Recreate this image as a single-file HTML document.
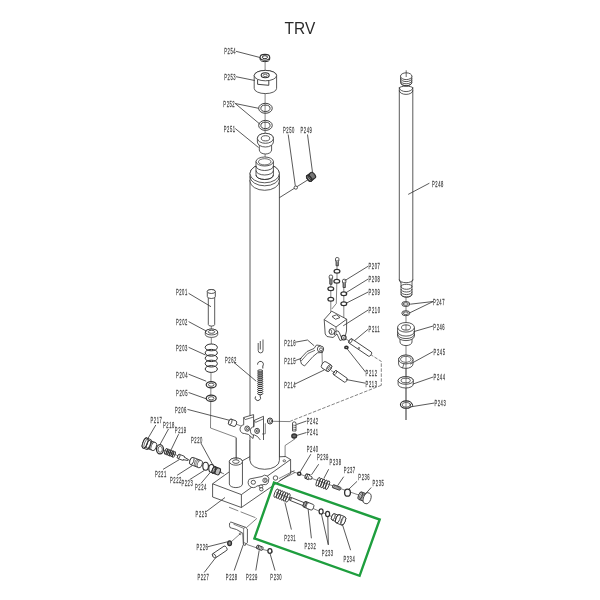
<!DOCTYPE html>
<html><head><meta charset="utf-8"><style>
html,body{margin:0;padding:0;background:#fff;width:600px;height:600px;overflow:hidden}
svg{display:block;font-family:"Liberation Sans",sans-serif;will-change:transform}
</style></head><body>
<svg width="600" height="600" viewBox="0 0 600 600">
<rect width="600" height="600" fill="#fff"/>
<text x="284.6" y="33.8" font-size="16.9" textLength="30.6" lengthAdjust="spacingAndGlyphs" fill="#2a2a2a">TRV</text>
<path d="M265.1 60 L265.1 165" stroke="#303030" stroke-width="0.6" fill="none"/>
<path d="M260.1 57.5 L260.1 59 A4.8 2.6 0 0 0 269.7 59 L269.7 57.5" stroke="#303030" stroke-width="1.0" fill="#fff"/>
<ellipse cx="264.9" cy="57.3" rx="4.8" ry="2.9" stroke="#303030" stroke-width="1.1" fill="#fff"/>
<ellipse cx="264.9" cy="57.2" rx="2.6" ry="1.5" stroke="#303030" stroke-width="1.0" fill="#fff"/>
<path d="M254.2 75.6 L254.2 88.4 A11.2 5.2 0 0 0 276.6 88.4 L276.6 75.6 A11.2 5.2 0 0 0 254.2 75.6 Z" stroke="#303030" stroke-width="0.8" fill="#fff"/>
<ellipse cx="265.4" cy="75.6" rx="11.2" ry="5.2" stroke="#303030" stroke-width="0.8" fill="#fff"/>
<ellipse cx="265.2" cy="75.2" rx="4" ry="2.5" stroke="#303030" stroke-width="1.1" fill="#fff"/>
<ellipse cx="265.2" cy="75.4" rx="2" ry="1.2" stroke="#303030" stroke-width="0.7" fill="#fff"/>
<path d="M257.6 79.6 L257.6 84.3 L268.8 85.3 L268.8 80.6" stroke="#303030" stroke-width="0.9" fill="none"/>
<ellipse cx="265.45" cy="108.3" rx="6.8" ry="5" stroke="#303030" stroke-width="0.9" fill="none"/>
<ellipse cx="265.45" cy="108.3" rx="4.6" ry="3.2" stroke="#303030" stroke-width="0.9" fill="none"/>
<ellipse cx="265.45" cy="125.4" rx="6.8" ry="5" stroke="#303030" stroke-width="0.9" fill="none"/>
<ellipse cx="265.45" cy="125.4" rx="4.6" ry="3.2" stroke="#303030" stroke-width="0.9" fill="none"/>
<path d="M259.3 142 L259.3 150 A6.15 4.0 0 0 0 271.6 150 L271.6 142" stroke="#303030" stroke-width="0.8" fill="#fff"/>
<path d="M257.4 138.3 L257.4 142 A8 5 0 0 0 273.4 142 L273.4 138.3 A8 5 0 0 0 257.4 138.3 Z" stroke="#303030" stroke-width="0.8" fill="#fff"/>
<ellipse cx="265.4" cy="138.3" rx="8" ry="5" stroke="#303030" stroke-width="0.8" fill="#fff"/>
<ellipse cx="265.5" cy="138.3" rx="4.2" ry="2.6" stroke="#303030" stroke-width="0.8" fill="#fff"/>
<path d="M236 51.3 L260 57.5" stroke="#303030" stroke-width="0.8" fill="none"/>
<path d="M236 76.7 L254.8 80.5" stroke="#303030" stroke-width="0.8" fill="none"/>
<path d="M235.2 103.5 L258.6 108.3" stroke="#303030" stroke-width="0.8" fill="none"/>
<path d="M235.2 103.5 L260 124.2" stroke="#303030" stroke-width="0.8" fill="none"/>
<path d="M235.2 128.5 L258.5 147.5" stroke="#303030" stroke-width="0.8" fill="none"/>
<path d="M250 180 L250 461" stroke="#303030" stroke-width="0.8" fill="none"/>
<path d="M279.4 180 L279.4 461" stroke="#303030" stroke-width="0.8" fill="none"/>
<path d="M250 460.5 A14.7 8.8 0 0 0 279.4 460.5" stroke="#303030" stroke-width="0.8" fill="none"/>
<path d="M250.0 173.5 L250.0 181 A14.7 9.3 0 0 0 279.4 181 L279.4 173.5 A14.7 9.3 0 0 0 250.0 173.5 Z" stroke="#303030" stroke-width="0.8" fill="#fff"/>
<ellipse cx="264.7" cy="173.5" rx="14.7" ry="9.3" stroke="#303030" stroke-width="0.8" fill="#fff"/>
<path d="M250 176.5 A14.7 9.3 0 0 0 279.4 176.5" stroke="#303030" stroke-width="0.8" fill="none"/>
<path d="M256 161.5 L256 175 A8.7 4.5 0 0 0 273.4 175 L273.4 161.5 Z" stroke="#303030" stroke-width="0.8" fill="#fff"/>
<path d="M256 166 A8.7 4.5 0 0 0 273.4 166" stroke="#303030" stroke-width="0.8" fill="none"/>
<path d="M256 170.5 A8.7 4.5 0 0 0 273.4 170.5" stroke="#303030" stroke-width="0.8" fill="none"/>
<path d="M256 175 A8.7 4.5 0 0 0 273.4 175" stroke="#303030" stroke-width="0.8" fill="none"/>
<ellipse cx="264.7" cy="161.5" rx="8.7" ry="4.5" stroke="#303030" stroke-width="0.8" fill="#fff"/>
<ellipse cx="264.7" cy="161.8" rx="6.3" ry="3.1" stroke="#303030" stroke-width="0.7" fill="#fff"/>
<path d="M279.4 197.7 L309.5 178.8" stroke="#303030" stroke-width="0.8" fill="none"/>
<ellipse cx="295.8" cy="187.6" rx="1.7" ry="1.6" stroke="#303030" stroke-width="0.8" fill="#fff"/>
<g transform="translate(311.2 176.7) rotate(-38)">
<path d="M-2.6 -3.4 L2.4 -3.4 A1.7 3.4 0 0 1 2.4 3.4 L-2.6 3.4 A1.7 3.4 0 0 1 -2.6 -3.4 Z" stroke="#303030" stroke-width="1.2" fill="#777"/>
<ellipse cx="-2.6" cy="0" rx="1.7" ry="3.4" stroke="#303030" stroke-width="1.2" fill="#fff"/>
<ellipse cx="-2.6" cy="0" rx="1.7" ry="3.4" stroke="#303030" stroke-width="1.3" fill="#999"/>
<path d="M-0.8 -3.3 A1.7 3.3 0 0 0 -0.8 3.3" stroke="#303030" stroke-width="0.9" fill="none"/>
<path d="M0.8 -3.3 A1.7 3.3 0 0 0 0.8 3.3" stroke="#303030" stroke-width="0.9" fill="none"/>
</g>
<path d="M288.2 134.5 L295.3 185.8" stroke="#303030" stroke-width="0.8" fill="none"/>
<path d="M307.5 134.5 L312.6 173" stroke="#303030" stroke-width="0.8" fill="none"/>
<path d="M400.6 76.2 L400.6 82.5 A5.6 3.3 0 0 0 411.8 82.5 L411.8 76.2 Z" stroke="#303030" stroke-width="0.8" fill="#fff"/>
<path d="M400.6 78.3 A5.6 3.3 0 0 0 411.8 78.3" stroke="#303030" stroke-width="0.8" fill="none"/>
<path d="M400.6 80.5 A5.6 3.3 0 0 0 411.8 80.5" stroke="#303030" stroke-width="0.8" fill="none"/>
<path d="M400.6 82.4 A5.6 3.3 0 0 0 411.8 82.4" stroke="#303030" stroke-width="0.8" fill="none"/>
<ellipse cx="406.2" cy="76.2" rx="5.7" ry="3.4" stroke="#303030" stroke-width="0.8" fill="#fff"/>
<path d="M406.2 70.3 L406.2 77" stroke="#303030" stroke-width="0.7" fill="none"/>
<path d="M399.3 87.5 L399.3 280 A6.75 4 0 0 0 412.8 280 L412.8 87.5" stroke="#303030" stroke-width="0.8" fill="#fff"/>
<path d="M399.3 88 A6.75 1.8 0 0 1 412.8 88" stroke="#303030" stroke-width="0.8" fill="none"/>
<path d="M399.3 87.6 A6.75 4 0 0 0 412.8 87.6" stroke="#303030" stroke-width="0.8" fill="none"/>
<path d="M399.3 90.4 A6.75 4 0 0 0 412.8 90.4" stroke="#303030" stroke-width="0.8" fill="none"/>
<path d="M401 282 L401 294 A5.5 3 0 0 0 412 294 L412 282" stroke="#303030" stroke-width="0.8" fill="#fff"/>
<path d="M401 286.3 A5.5 2 0 0 1 412 286.3" stroke="#303030" stroke-width="0.8" fill="none"/>
<path d="M401 286.3 A5.5 3 0 0 0 412 286.3" stroke="#303030" stroke-width="0.8" fill="none"/>
<path d="M401 289 A5.5 3 0 0 0 412 289" stroke="#303030" stroke-width="0.8" fill="none"/>
<path d="M401 291.6 A5.5 3 0 0 0 412 291.6" stroke="#303030" stroke-width="0.8" fill="none"/>
<path d="M401 294.2 A5.5 3 0 0 0 412 294.2" stroke="#303030" stroke-width="0.8" fill="none"/>
<path d="M399.3 279.5 A6.75 3.2 0 0 0 412.8 279.5" stroke="#303030" stroke-width="0.8" fill="none"/>
<path d="M406 297.2 L406 420" stroke="#303030" stroke-width="0.6" fill="none"/>
<ellipse cx="405.8" cy="304" rx="4" ry="2.5" stroke="#303030" stroke-width="0.9" fill="#fff"/>
<ellipse cx="405.8" cy="304" rx="2.5" ry="1.3" stroke="#303030" stroke-width="0.8" fill="#fff"/>
<ellipse cx="405.8" cy="313.2" rx="4" ry="2.5" stroke="#303030" stroke-width="0.9" fill="#fff"/>
<ellipse cx="405.8" cy="313.2" rx="2.5" ry="1.3" stroke="#303030" stroke-width="0.8" fill="#fff"/>
<path d="M400 335 L400 342 A6 3.6 0 0 0 412 342 L412 335 Z" stroke="#303030" stroke-width="0.8" fill="#fff"/>
<path d="M397.6 327.3 L397.6 336 A8.4 4.6 0 0 0 414.4 336 L414.4 327.3 Z" stroke="#303030" stroke-width="0.8" fill="#fff"/>
<path d="M397.6 331.5 A8.4 4.6 0 0 0 414.4 331.5" stroke="#303030" stroke-width="0.8" fill="none"/>
<path d="M397.6 334 A8.4 4.6 0 0 0 414.4 334" stroke="#303030" stroke-width="0.8" fill="none"/>
<ellipse cx="406" cy="327.3" rx="8.4" ry="4.8" stroke="#303030" stroke-width="0.8" fill="#fff"/>
<ellipse cx="406" cy="327.5" rx="4.5" ry="2.6" stroke="#303030" stroke-width="0.8" fill="#fff"/>
<path d="M398.6 359.5 L398.6 364 A7.2 4.4 0 0 0 413 364 L413 359.5 A7.2 4.4 0 0 0 398.6 359.5 Z" stroke="#303030" stroke-width="0.8" fill="#fff"/>
<ellipse cx="405.8" cy="359.5" rx="7.2" ry="4.4" stroke="#303030" stroke-width="0.8" fill="#fff"/>
<ellipse cx="405.8" cy="359.3" rx="5.3" ry="3" stroke="#303030" stroke-width="0.7" fill="#fff"/>
<path d="M404 363.5 L402.5 368.2" stroke="#303030" stroke-width="0.7" fill="none"/>
<path d="M398.1 380.5 L398.1 384.2 A7.6 3.8 0 0 0 413.3 384.2 L413.3 380.5 A7.6 3.8 0 0 0 398.1 380.5 Z" stroke="#303030" stroke-width="0.8" fill="#fff"/>
<ellipse cx="405.7" cy="380.5" rx="7.6" ry="3.8" stroke="#303030" stroke-width="0.8" fill="#fff"/>
<ellipse cx="405.7" cy="380.5" rx="4.6" ry="2.3" stroke="#303030" stroke-width="0.8" fill="#fff"/>
<ellipse cx="406.2" cy="404.6" rx="5.8" ry="3.7" stroke="#303030" stroke-width="1.1" fill="#fff"/>
<ellipse cx="406.2" cy="404.8" rx="4" ry="2.4" stroke="#303030" stroke-width="0.7" fill="#fff"/>
<ellipse cx="411.5" cy="405.2" rx="1.2" ry="1.5" stroke="#303030" stroke-width="0.9" fill="#fff"/>
<path d="M406 356 L406 420" stroke="#303030" stroke-width="0.6" fill="none"/>
<path d="M406 324.5 L406 330" stroke="#303030" stroke-width="0.6" fill="none"/>
<path d="M429.4 183.2 L408.2 194.4" stroke="#303030" stroke-width="0.8" fill="none"/>
<path d="M433.2 301.5 L410.2 304.2" stroke="#303030" stroke-width="0.8" fill="none"/>
<path d="M433.2 301.5 L409.8 312.8" stroke="#303030" stroke-width="0.8" fill="none"/>
<path d="M433.2 326 L413.5 331.7" stroke="#303030" stroke-width="0.8" fill="none"/>
<path d="M433.2 351.5 L410 364.2" stroke="#303030" stroke-width="0.8" fill="none"/>
<path d="M433.2 377 L412.5 384.2" stroke="#303030" stroke-width="0.8" fill="none"/>
<path d="M434.5 403 L411.7 406.7" stroke="#303030" stroke-width="0.8" fill="none"/>
<path d="M211.3 325 L211.3 344" stroke="#303030" stroke-width="0.6" fill="none"/>
<path d="M211 372 L210.5 428" stroke="#303030" stroke-width="0.6" fill="none"/>
<path d="M208.3 293 L208.3 324.5 A3.2 1.6 0 0 0 214.7 324.5 L214.7 293" stroke="#303030" stroke-width="0.8" fill="#fff"/>
<path d="M207.3 291.5 L207.3 296.5 A4 2 0 0 0 215.3 296.5 L215.3 291.5 A4 2 0 0 0 207.3 291.5 Z" stroke="#303030" stroke-width="0.8" fill="#fff"/>
<ellipse cx="211.3" cy="291.5" rx="4" ry="2" stroke="#303030" stroke-width="0.8" fill="#fff"/>
<path d="M205.3 332 L205.3 334.5 A6.2 2.9 0 0 0 217.7 334.5 L217.7 332 A6.2 2.9 0 0 0 205.3 332 Z" stroke="#303030" stroke-width="0.8" fill="#fff"/>
<ellipse cx="211.5" cy="332" rx="6.2" ry="2.9" stroke="#303030" stroke-width="0.8" fill="#fff"/>
<ellipse cx="211.5" cy="331.8" rx="3.3" ry="1.5" stroke="#303030" stroke-width="0.8" fill="#fff"/>
<path d="M205.2 344 L217.4 344 L217.4 372 L205.2 372 Z" stroke="#303030" stroke-width="0" fill="#fff"/>
<ellipse cx="211.3" cy="347.4" rx="6.1" ry="3.4" stroke="#303030" stroke-width="1.0" fill="none"/>
<ellipse cx="211.3" cy="352.8" rx="6.1" ry="3.4" stroke="#303030" stroke-width="1.0" fill="none"/>
<ellipse cx="211.3" cy="358.2" rx="6.1" ry="3.4" stroke="#303030" stroke-width="1.0" fill="none"/>
<ellipse cx="211.3" cy="363.6" rx="6.1" ry="3.4" stroke="#303030" stroke-width="1.0" fill="none"/>
<ellipse cx="211.3" cy="369" rx="6.1" ry="3.4" stroke="#303030" stroke-width="1.0" fill="none"/>
<ellipse cx="211.2" cy="384.7" rx="5" ry="3.1" stroke="#303030" stroke-width="1.2" fill="#fff"/>
<ellipse cx="211.2" cy="384.7" rx="2.8" ry="1.6" stroke="#303030" stroke-width="0.8" fill="#fff"/>
<ellipse cx="211.2" cy="398.3" rx="5" ry="3.1" stroke="#303030" stroke-width="1.2" fill="#fff"/>
<ellipse cx="211.2" cy="398.3" rx="2.8" ry="1.6" stroke="#303030" stroke-width="0.8" fill="#fff"/>
<path d="M188.6 293.3 L211 306.7" stroke="#303030" stroke-width="0.8" fill="none"/>
<path d="M188.6 321.6 L206.7 331.3" stroke="#303030" stroke-width="0.8" fill="none"/>
<path d="M188.6 347.3 L205.5 355" stroke="#303030" stroke-width="0.8" fill="none"/>
<path d="M188.6 374.2 L206.2 381.2" stroke="#303030" stroke-width="0.8" fill="none"/>
<path d="M188.6 392.5 L206.2 398.8" stroke="#303030" stroke-width="0.8" fill="none"/>
<path d="M187.5 409.4 L229.5 420.3" stroke="#303030" stroke-width="0.8" fill="none"/>
<path d="M258.2 343 L258.2 350.5 A2.4 2.4 0 0 0 263 350.5 L263 339.5 M260.3 341 L260.3 349.5" stroke="#303030" stroke-width="0.8" fill="none"/>
<path d="M262.8 368.5 L262.8 366 A2.9 2.9 0 1 0 257.6 364.6" stroke="#303030" stroke-width="0.9" fill="none"/>
<path d="M257.6 370 L262.8 370 L262.8 394.5 L257.6 394.5 Z" stroke="#303030" stroke-width="0" fill="#fff"/>
<ellipse cx="260.2" cy="371" rx="2.6" ry="1.15" stroke="#303030" stroke-width="0.95" fill="none"/>
<ellipse cx="260.2" cy="373.05" rx="2.6" ry="1.15" stroke="#303030" stroke-width="0.95" fill="none"/>
<ellipse cx="260.2" cy="375.1" rx="2.6" ry="1.15" stroke="#303030" stroke-width="0.95" fill="none"/>
<ellipse cx="260.2" cy="377.15" rx="2.6" ry="1.15" stroke="#303030" stroke-width="0.95" fill="none"/>
<ellipse cx="260.2" cy="379.2" rx="2.6" ry="1.15" stroke="#303030" stroke-width="0.95" fill="none"/>
<ellipse cx="260.2" cy="381.25" rx="2.6" ry="1.15" stroke="#303030" stroke-width="0.95" fill="none"/>
<ellipse cx="260.2" cy="383.3" rx="2.6" ry="1.15" stroke="#303030" stroke-width="0.95" fill="none"/>
<ellipse cx="260.2" cy="385.35" rx="2.6" ry="1.15" stroke="#303030" stroke-width="0.95" fill="none"/>
<ellipse cx="260.2" cy="387.4" rx="2.6" ry="1.15" stroke="#303030" stroke-width="0.95" fill="none"/>
<ellipse cx="260.2" cy="389.45" rx="2.6" ry="1.15" stroke="#303030" stroke-width="0.95" fill="none"/>
<ellipse cx="260.2" cy="391.5" rx="2.6" ry="1.15" stroke="#303030" stroke-width="0.95" fill="none"/>
<ellipse cx="260.2" cy="393.55" rx="2.6" ry="1.15" stroke="#303030" stroke-width="0.95" fill="none"/>
<path d="M260.2 395 L260.2 396.5 A2.7 2.7 0 1 1 255.6 396.4" stroke="#303030" stroke-width="0.9" fill="none"/>
<path d="M234 362.5 L256.2 381.2" stroke="#303030" stroke-width="0.8" fill="none"/>
<path d="M210.5 428 L236.2 437.5 L236.2 460" stroke="#303030" stroke-width="0.6" fill="none"/>
<g transform="translate(232.6 422.8) rotate(20)">
<path d="M-2.5 -3 L2.5 -3 A1.5 3 0 0 1 2.5 3 L-2.5 3 A1.5 3 0 0 1 -2.5 -3 Z" stroke="#303030" stroke-width="0.8" fill="#fff"/>
<ellipse cx="-2.5" cy="0" rx="1.5" ry="3" stroke="#303030" stroke-width="0.8" fill="#fff"/>
</g>
<path d="M236 424 L246 428" stroke="#303030" stroke-width="0.6" fill="none"/>
<path d="M243.7 417.5 L253.6 414.6 L253.6 435 L253 438.5 L248.5 434.5 L244.6 433.5 A3.4 3.6 0 0 1 243.7 424.8 Z" stroke="#303030" stroke-width="0.8" fill="#fff"/>
<path d="M243.7 417.5 L245.2 419.6 L253.6 417" stroke="#303030" stroke-width="0.7" fill="none"/>
<ellipse cx="247.2" cy="428.6" rx="2.4" ry="2.6" stroke="#303030" stroke-width="0.9" fill="#fff"/>
<ellipse cx="247.4" cy="428.6" rx="1" ry="1.2" stroke="#303030" stroke-width="0.8" fill="#fff"/>
<path d="M254.2 420.4 L263.5 416.3 L263.5 440.8 L261.2 441 L257.5 436.5 L254.5 435 A3.4 3.6 0 0 1 254.0 426.8 Z" stroke="#303030" stroke-width="0.8" fill="#fff"/>
<path d="M254.2 420.4 L255.6 422.4 L263.5 418.8" stroke="#303030" stroke-width="0.7" fill="none"/>
<ellipse cx="257.1" cy="430.9" rx="2.4" ry="2.6" stroke="#303030" stroke-width="0.9" fill="#fff"/>
<ellipse cx="257.3" cy="430.9" rx="1" ry="1.2" stroke="#303030" stroke-width="0.8" fill="#fff"/>
<ellipse cx="270" cy="421" rx="2.6" ry="3" stroke="#303030" stroke-width="1.0" fill="#fff"/>
<ellipse cx="270.3" cy="421" rx="1.2" ry="1.5" stroke="#303030" stroke-width="0.7" fill="#fff"/>
<path d="M265.3 423.3 L265.3 433.8 L262 434" stroke="#303030" stroke-width="0.6" fill="none"/>
<path d="M273 421.3 L290.3 421.6" stroke="#303030" stroke-width="0.6" fill="none"/>
<path d="M212.6 483.8 L212.6 497 L241.4 507.5 L290.6 473.5 L290.6 459.5 L286 456.5 L250 460 L228.5 472 Z" stroke="#303030" stroke-width="0" fill="#fff"/>
<path d="M212.6 483.8 L212.6 497 L241.4 507.5 L290.6 473.5 L290.6 459.5" stroke="#303030" stroke-width="0.8" fill="none"/>
<path d="M212.6 483.8 L241.4 494.6 L290.6 459.5" stroke="#303030" stroke-width="0.8" fill="none"/>
<path d="M241.4 494.6 L241.4 507.5" stroke="#303030" stroke-width="0.8" fill="none"/>
<path d="M212.6 483.8 L229 472" stroke="#303030" stroke-width="0.8" fill="none"/>
<path d="M241 461.5 L250 456.6" stroke="#303030" stroke-width="0.8" fill="none"/>
<path d="M250.0 440 L250.0 460.5 A14.7 8.8 0 0 0 279.4 460.5 L279.4 440" stroke="#303030" stroke-width="0.8" fill="#fff"/>
<path d="M279.4 456.8 L285.5 456.5 L290.6 459.5" stroke="#303030" stroke-width="0.8" fill="none"/>
<ellipse cx="284.3" cy="460.8" rx="1.3" ry="1" stroke="#303030" stroke-width="0.7" fill="#fff"/>
<path d="M229.35 461.6 L229.35 484 A6.55 3.6 0 0 0 242.45 484 L242.45 461.6 A6.55 3.6 0 0 0 229.35 461.6 Z" stroke="#303030" stroke-width="0.8" fill="#fff"/>
<ellipse cx="235.9" cy="461.6" rx="6.55" ry="3.6" stroke="#303030" stroke-width="0.8" fill="#fff"/>
<ellipse cx="235.9" cy="461.6" rx="3.3" ry="1.8" stroke="#303030" stroke-width="0.8" fill="#fff"/>
<path d="M236.2 438 L236.2 460" stroke="#303030" stroke-width="0.6" fill="none"/>
<path d="M229 507.2 L257 518.3" stroke="#303030" stroke-width="0.6" fill="none" stroke-dasharray="10 2.5 16"/>
<path d="M257 518.3 L246.3 527.7" stroke="#303030" stroke-width="0.6" fill="none"/>
<path d="M249.5 479 L262 476.5 A4 4 0 0 1 268.5 481 A3.5 3.5 0 0 1 264 484.5 L257 486 A4.2 4.2 0 0 1 249.5 479 Z" stroke="#303030" stroke-width="0.8" fill="#fff"/>
<ellipse cx="253.3" cy="482.3" rx="2.2" ry="2" stroke="#303030" stroke-width="0.8" fill="#fff"/>
<ellipse cx="265" cy="480.3" rx="2.2" ry="2.2" stroke="#303030" stroke-width="0.8" fill="#fff"/>
<ellipse cx="265.3" cy="480.3" rx="1" ry="1.1" stroke="#303030" stroke-width="0.6" fill="#fff"/>
<ellipse cx="261" cy="486.5" rx="1.8" ry="1.6" stroke="#303030" stroke-width="0.8" fill="#fff"/>
<ellipse cx="261.3" cy="489.3" rx="1.8" ry="1.6" stroke="#303030" stroke-width="0.8" fill="#fff"/>
<ellipse cx="275.5" cy="478" rx="2.3" ry="2.2" stroke="#303030" stroke-width="0.8" fill="#fff"/>
<path d="M279.5 480.5 L295 472.5" stroke="#303030" stroke-width="0.6" fill="none"/>
<path d="M279 478.5 L294.5 470.5" stroke="#303030" stroke-width="0.6" fill="none"/>
<path d="M285.1 457.2 L285.1 445.5 L293.8 439.7" stroke="#303030" stroke-width="0.6" fill="none"/>
<path d="M292.5 423 A1.8 1.5 0 0 1 296 423 L296 431 L292.5 431 Z" stroke="#303030" stroke-width="0.8" fill="#fff"/>
<path d="M292.5 425 L296 425.6" stroke="#303030" stroke-width="0.6" fill="none"/>
<path d="M292.5 427 L296 427.6" stroke="#303030" stroke-width="0.6" fill="none"/>
<path d="M292.5 429 L296 429.6" stroke="#303030" stroke-width="0.6" fill="none"/>
<ellipse cx="294.2" cy="436" rx="2.4" ry="2" stroke="#303030" stroke-width="1.3" fill="#666"/>
<path d="M294.2 438 L294.2 440" stroke="#303030" stroke-width="0.6" fill="none"/>
<path d="M306.5 421 L296.5 424.5" stroke="#303030" stroke-width="0.8" fill="none"/>
<path d="M306.5 432.5 L296.5 435.5" stroke="#303030" stroke-width="0.8" fill="none"/>
<path d="M381.3 385.3 L290.3 421.2" stroke="#303030" stroke-width="0.6" fill="none" stroke-dasharray="3.5 1.5"/>
<path d="M370.3 354.4 L381.3 361.4 L381.3 385.3" stroke="#303030" stroke-width="0.6" fill="none" stroke-dasharray="3.5 1.5"/>
<path d="M337 265 L337 280" stroke="#303030" stroke-width="0.6" fill="none"/>
<path d="M336.8 283.2 L336.3 303.5 L331.8 309" stroke="#303030" stroke-width="0.6" fill="none"/>
<path d="M330.8 284 L330.8 331" stroke="#303030" stroke-width="0.6" fill="none"/>
<path d="M343.8 287 L343.8 318" stroke="#303030" stroke-width="0.6" fill="none"/>
<path d="M335.5 258.7 A1.7 1.2 0 0 1 338.9 258.7 L338.9 260.9 L335.5 260.9 Z" stroke="#303030" stroke-width="0.8" fill="#fff"/>
<path d="M336.1 260.9 L336.1 265.8 L338.3 265.8 L338.3 260.9" stroke="#303030" stroke-width="0.8" fill="#fff"/>
<path d="M335.9 261.8 L338.5 262.3" stroke="#303030" stroke-width="0.6" fill="none"/>
<path d="M335.9 262.9 L338.5 263.4" stroke="#303030" stroke-width="0.6" fill="none"/>
<path d="M335.9 264 L338.5 264.5" stroke="#303030" stroke-width="0.6" fill="none"/>
<path d="M335.9 265.1 L338.5 265.6" stroke="#303030" stroke-width="0.6" fill="none"/>
<path d="M329.2 276.2 A1.7 1.2 0 0 1 332.6 276.2 L332.6 278.4 L329.2 278.4 Z" stroke="#303030" stroke-width="0.8" fill="#fff"/>
<path d="M329.8 278.4 L329.8 284.2 L332 284.2 L332 278.4" stroke="#303030" stroke-width="0.8" fill="#fff"/>
<path d="M329.6 279.3 L332.2 279.8" stroke="#303030" stroke-width="0.6" fill="none"/>
<path d="M329.6 280.4 L332.2 280.9" stroke="#303030" stroke-width="0.6" fill="none"/>
<path d="M329.6 281.5 L332.2 282" stroke="#303030" stroke-width="0.6" fill="none"/>
<path d="M329.6 282.6 L332.2 283.1" stroke="#303030" stroke-width="0.6" fill="none"/>
<path d="M329.6 283.7 L332.2 284.2" stroke="#303030" stroke-width="0.6" fill="none"/>
<path d="M342.5 280.4 A1.7 1.2 0 0 1 345.9 280.4 L345.9 282.6 L342.5 282.6 Z" stroke="#303030" stroke-width="0.8" fill="#fff"/>
<path d="M343.1 282.6 L343.1 287.5 L345.3 287.5 L345.3 282.6" stroke="#303030" stroke-width="0.8" fill="#fff"/>
<path d="M342.9 283.5 L345.5 284" stroke="#303030" stroke-width="0.6" fill="none"/>
<path d="M342.9 284.6 L345.5 285.1" stroke="#303030" stroke-width="0.6" fill="none"/>
<path d="M342.9 285.7 L345.5 286.2" stroke="#303030" stroke-width="0.6" fill="none"/>
<path d="M342.9 286.8 L345.5 287.3" stroke="#303030" stroke-width="0.6" fill="none"/>
<ellipse cx="337" cy="271.3" rx="2.9" ry="1.9" stroke="#303030" stroke-width="1.25" fill="#fff"/>
<ellipse cx="336.8" cy="281.3" rx="2.9" ry="1.9" stroke="#303030" stroke-width="1.25" fill="#fff"/>
<ellipse cx="330.8" cy="288.8" rx="2.9" ry="1.9" stroke="#303030" stroke-width="1.25" fill="#fff"/>
<ellipse cx="330.8" cy="299.2" rx="2.9" ry="1.9" stroke="#303030" stroke-width="1.25" fill="#fff"/>
<ellipse cx="343.8" cy="293.7" rx="2.9" ry="1.9" stroke="#303030" stroke-width="1.25" fill="#fff"/>
<ellipse cx="343.8" cy="303.7" rx="2.9" ry="1.9" stroke="#303030" stroke-width="1.25" fill="#fff"/>
<path d="M324.2 319.6 L331.7 311.2 L346.7 319.2 L346.5 331 L344.5 339 L340 340.5 L337 334 L333 337.5 L327 336.5 L325.2 334 Z" stroke="#303030" stroke-width="0.8" fill="#fff"/>
<path d="M324.2 319.6 L336 327 L346.7 319.2" stroke="#303030" stroke-width="0.8" fill="none"/>
<path d="M336 327 L336 334.5" stroke="#303030" stroke-width="0.7" fill="none"/>
<path d="M332 316.5 L336.5 314.8 L340 317.5 L335.5 319.3 Z" stroke="#303030" stroke-width="0.8" fill="none"/>
<ellipse cx="331.8" cy="331.5" rx="2.8" ry="3" stroke="#303030" stroke-width="0.8" fill="#fff"/>
<ellipse cx="330.5" cy="331.8" rx="1.2" ry="2" stroke="#303030" stroke-width="0.7" fill="#fff"/>
<path d="M334.5 335 A2.5 3 0 0 1 339.5 333 L342 339" stroke="#303030" stroke-width="0.8" fill="none"/>
<ellipse cx="343.8" cy="337.6" rx="2.3" ry="2.4" stroke="#303030" stroke-width="1.1" fill="#fff"/>
<ellipse cx="344.3" cy="337.8" rx="1" ry="1.1" stroke="#303030" stroke-width="0.6" fill="#fff"/>
<g transform="translate(350.5 341) rotate(34)">
<path d="M0 -2.5 L23.5 -2.5 A1.25 2.5 0 0 1 23.5 2.5 L0 2.5 A1.25 2.5 0 0 1 0 -2.5 Z" stroke="#303030" stroke-width="0.8" fill="#fff"/>
<ellipse cx="0" cy="0" rx="1.25" ry="2.5" stroke="#303030" stroke-width="0.8" fill="#fff"/>
<ellipse cx="11" cy="1.2" rx="0.8" ry="0.8" stroke="#303030" stroke-width="0.6" fill="#fff"/>
</g>
<path d="M346 339 L350 341.5" stroke="#303030" stroke-width="0.6" fill="none"/>
<ellipse cx="346.4" cy="347.4" rx="1.6" ry="1.2" stroke="#303030" stroke-width="1.5" fill="#fff"/>
<g transform="translate(335 372.7) rotate(35)">
<path d="M0 -2.4 L13 -2.4 A1.2 2.4 0 0 1 13 2.4 L0 2.4 A1.2 2.4 0 0 1 0 -2.4 Z" stroke="#303030" stroke-width="0.8" fill="#fff"/>
<ellipse cx="0" cy="0" rx="1.2" ry="2.4" stroke="#303030" stroke-width="0.8" fill="#fff"/>
</g>
<g transform="translate(326.5 366.5) rotate(32)">
<path d="M-3 -3.7 L3 -3.7 A2.04 3.7 0 0 1 3 3.7 L-3 3.7 A2.04 3.7 0 0 1 -3 -3.7 Z" stroke="#303030" stroke-width="0.8" fill="#fff"/>
<ellipse cx="3" cy="0" rx="2" ry="3.7" stroke="#303030" stroke-width="0.8" fill="#fff"/>
<ellipse cx="3" cy="0" rx="1" ry="1.6" stroke="#303030" stroke-width="0.7" fill="#fff"/>
</g>
<path d="M331 370.5 L335 372.7" stroke="#303030" stroke-width="0.6" fill="none"/>
<path d="M300 359 L307 351.5 L314 348.5 L316.5 345 L320 345.5 L323.5 348 L322.5 352.5 L317.5 352.8 L313 356.5 L304.5 366 L301.5 364 Z" stroke="#303030" stroke-width="0.8" fill="#fff"/>
<path d="M301.2 361 L307.8 353.5 L315 350.3" stroke="#303030" stroke-width="0.7" fill="none"/>
<ellipse cx="320.5" cy="349" rx="3.2" ry="3" stroke="#303030" stroke-width="0.8" fill="#fff"/>
<ellipse cx="321" cy="349.3" rx="1.5" ry="1.5" stroke="#303030" stroke-width="0.7" fill="#fff"/>
<path d="M322 352 L322.3 364" stroke="#303030" stroke-width="0.6" fill="none"/>
<path d="M368.2 266.2 L344.5 280.8" stroke="#303030" stroke-width="0.8" fill="none"/>
<path d="M368.2 279 L345.5 293" stroke="#303030" stroke-width="0.8" fill="none"/>
<path d="M368.2 292 L346 303.3" stroke="#303030" stroke-width="0.8" fill="none"/>
<path d="M368.2 310 L343.2 325.8" stroke="#303030" stroke-width="0.8" fill="none"/>
<path d="M368.2 329.2 L354.3 340.8" stroke="#303030" stroke-width="0.8" fill="none"/>
<path d="M295.2 342.2 L307.5 340 L314.2 345.8" stroke="#303030" stroke-width="0.8" fill="none"/>
<path d="M295.2 360.5 L301.5 358.3" stroke="#303030" stroke-width="0.8" fill="none"/>
<path d="M295 384 L324.2 370" stroke="#303030" stroke-width="0.8" fill="none"/>
<path d="M365.5 372 L346.3 347.8" stroke="#303030" stroke-width="0.8" fill="none"/>
<path d="M365.5 383.2 L346 379.5" stroke="#303030" stroke-width="0.8" fill="none"/>
<path d="M150 445 L222 472.5" stroke="#303030" stroke-width="0.6" fill="none"/>
<g transform="translate(149.8 444.9) rotate(21.0)">
<path d="M-1.5 -4.2 L5 -4.2 A1.76 4.2 0 0 1 5 4.2 L-1.5 4.2 A1.76 4.2 0 0 1 -1.5 -4.2 Z" stroke="#303030" stroke-width="0.8" fill="#fff"/>
<path d="M0.5 -4.1 A1.8 4.1 0 0 0 0.5 4.1" stroke="#303030" stroke-width="0.7" fill="none"/>
<path d="M2.0 -4.1 A1.8 4.1 0 0 0 2.0 4.1" stroke="#303030" stroke-width="0.7" fill="none"/>
<path d="M3.5 -4.1 A1.8 4.1 0 0 0 3.5 4.1" stroke="#303030" stroke-width="0.7" fill="none"/>
<path d="M-5 -5.3 L-1.5 -5.3 A2.23 5.3 0 0 1 -1.5 5.3 L-5 5.3 A2.23 5.3 0 0 1 -5 -5.3 Z" stroke="#303030" stroke-width="0.9" fill="#fff"/>
<ellipse cx="-5" cy="0" rx="2.23" ry="5.3" stroke="#303030" stroke-width="0.9" fill="#fff"/>
<ellipse cx="-5" cy="0" rx="2.2" ry="5.3" stroke="#303030" stroke-width="0.9" fill="#fff"/>
<path d="M-3.4 -5.0 A2.2 5.0 0 0 0 -3.4 5.0" stroke="#303030" stroke-width="0.6" fill="none"/>
<ellipse cx="-1.5" cy="0" rx="1.8" ry="4.3" stroke="#303030" stroke-width="0.8" fill="none"/>
</g>
<ellipse cx="160" cy="449.3" rx="3.5" ry="4.6" stroke="#303030" stroke-width="1.3" fill="#fff"/>
<ellipse cx="160.2" cy="449.3" rx="2.1" ry="3" stroke="#303030" stroke-width="0.7" fill="#fff"/>
<g transform="translate(170.2 453) rotate(21.0)">
<ellipse cx="-4.5" cy="0" rx="1.1" ry="3" stroke="#303030" stroke-width="0.9" fill="none"/>
<ellipse cx="-2.8" cy="0" rx="1.1" ry="3" stroke="#303030" stroke-width="0.9" fill="none"/>
<ellipse cx="-1.1" cy="0" rx="1.1" ry="3" stroke="#303030" stroke-width="0.9" fill="none"/>
<ellipse cx="0.6" cy="0" rx="1.1" ry="3" stroke="#303030" stroke-width="0.9" fill="none"/>
<ellipse cx="2.3" cy="0" rx="1.1" ry="3" stroke="#303030" stroke-width="0.9" fill="none"/>
<ellipse cx="4" cy="0" rx="1.1" ry="3" stroke="#303030" stroke-width="0.9" fill="none"/>
</g>
<g transform="translate(181.5 457.5) rotate(21.0)">
<path d="M-3 -2.2 L2 -2.2 A1.1 2.2 0 0 1 2 2.2 L-3 2.2 A1.1 2.2 0 0 1 -3 -2.2 Z" stroke="#303030" stroke-width="0.8" fill="#fff"/>
<ellipse cx="-3" cy="0" rx="1.1" ry="2.2" stroke="#303030" stroke-width="0.8" fill="#fff"/>
<path d="M2 -1.5 L7 -0.5 L7 0.5 L2 1.5" stroke="#303030" stroke-width="0.8" fill="#fff"/>
</g>
<g transform="translate(196 462.6) rotate(21.0)">
<path d="M-4.5 -3.8 L4.5 -3.8 A1.9 3.8 0 0 1 4.5 3.8 L-4.5 3.8 A1.9 3.8 0 0 1 -4.5 -3.8 Z" stroke="#303030" stroke-width="0.8" fill="#fff"/>
<ellipse cx="-4.5" cy="0" rx="1.9" ry="3.8" stroke="#303030" stroke-width="0.8" fill="#fff"/>
<path d="M0.5 -3.6 A1.8 3.6 0 0 0 0.5 3.6" stroke="#303030" stroke-width="0.6" fill="none"/>
<path d="M2 -3.6 A1.8 3.6 0 0 0 2 3.6" stroke="#303030" stroke-width="0.6" fill="none"/>
<path d="M3.5 -3.6 A1.8 3.6 0 0 0 3.5 3.6" stroke="#303030" stroke-width="0.6" fill="none"/>
</g>
<ellipse cx="205.6" cy="466.3" rx="2.8" ry="4" stroke="#303030" stroke-width="1.1" fill="#fff"/>
<ellipse cx="211.6" cy="468.5" rx="2.8" ry="4" stroke="#303030" stroke-width="1.1" fill="#fff"/>
<g transform="translate(216.3 470.8) rotate(21.0)">
<path d="M-2.5 -3.4 L2.5 -3.4 A1.53 3.4 0 0 1 2.5 3.4 L-2.5 3.4 A1.53 3.4 0 0 1 -2.5 -3.4 Z" stroke="#303030" stroke-width="1.0" fill="#bbb"/>
<ellipse cx="-2.5" cy="0" rx="1.53" ry="3.4" stroke="#303030" stroke-width="1.0" fill="#fff"/>
<ellipse cx="-2.5" cy="0" rx="1.5" ry="3.4" stroke="#303030" stroke-width="1.2" fill="#ddd"/>
<path d="M-0.8 -3.3 A1.5 3.3 0 0 0 -0.8 3.3" stroke="#303030" stroke-width="0.7" fill="none"/>
<path d="M0.8 -3.3 A1.5 3.3 0 0 0 0.8 3.3" stroke="#303030" stroke-width="0.7" fill="none"/>
</g>
<path d="M219 472 L224 473.8" stroke="#303030" stroke-width="0.6" fill="none"/>
<path d="M155.8 425 L147.5 439.2" stroke="#303030" stroke-width="0.8" fill="none"/>
<path d="M168.5 429 L160 444.5" stroke="#303030" stroke-width="0.8" fill="none"/>
<path d="M178.6 434.2 L171 450" stroke="#303030" stroke-width="0.8" fill="none"/>
<path d="M200.8 442.9 L214.5 468" stroke="#303030" stroke-width="0.8" fill="none"/>
<path d="M163 469.4 L179.3 459.6" stroke="#303030" stroke-width="0.8" fill="none"/>
<path d="M177.1 475.3 L192.3 465.6" stroke="#303030" stroke-width="0.8" fill="none"/>
<path d="M189.5 479.7 L204.2 470.5" stroke="#303030" stroke-width="0.8" fill="none"/>
<path d="M200.9 483.5 L210.1 472.6" stroke="#303030" stroke-width="0.8" fill="none"/>
<path d="M291 471 L360 495.5" stroke="#303030" stroke-width="0.6" fill="none"/>
<ellipse cx="299.2" cy="473.7" rx="1.6" ry="1.5" stroke="#303030" stroke-width="1.4" fill="#fff"/>
<g transform="translate(308.5 477) rotate(20.0)">
<path d="M-2.5 -2.2 L0.5 -2.6 L0.5 2.6 L-2.5 2.2 Z" stroke="#303030" stroke-width="1.0" fill="#fff"/>
<path d="M0.5 -1.8 L3.5 -1.2 L3.5 1.2 L0.5 1.8" stroke="#303030" stroke-width="0.8" fill="#fff"/>
<ellipse cx="-2.5" cy="0" rx="1" ry="2.2" stroke="#303030" stroke-width="1.0" fill="#fff"/>
</g>
<g transform="translate(322.8 483.5) rotate(20.0)">
<ellipse cx="-5" cy="0" rx="1.5" ry="4.6" stroke="#303030" stroke-width="0.85" fill="none"/>
<ellipse cx="-2.5" cy="0" rx="1.5" ry="4.6" stroke="#303030" stroke-width="0.85" fill="none"/>
<ellipse cx="0" cy="0" rx="1.5" ry="4.6" stroke="#303030" stroke-width="0.85" fill="none"/>
<ellipse cx="2.5" cy="0" rx="1.5" ry="4.6" stroke="#303030" stroke-width="0.85" fill="none"/>
<ellipse cx="5" cy="0" rx="1.5" ry="4.6" stroke="#303030" stroke-width="0.85" fill="none"/>
</g>
<g transform="translate(336.7 487.5) rotate(20.0)">
<path d="M-3.5 -1.6 L3.5 -1.6 A0.72 1.6 0 0 1 3.5 1.6 L-3.5 1.6 A0.72 1.6 0 0 1 -3.5 -1.6 Z" stroke="#303030" stroke-width="0.8" fill="#fff"/>
<ellipse cx="-3.5" cy="0" rx="0.72" ry="1.6" stroke="#303030" stroke-width="0.8" fill="#fff"/>
<path d="M-2 -1.6 L-1.6 1.6" stroke="#303030" stroke-width="0.6" fill="none"/>
<path d="M-0.8 -1.6 L-0.4 1.6" stroke="#303030" stroke-width="0.6" fill="none"/>
<path d="M0.4 -1.6 L0.8 1.6" stroke="#303030" stroke-width="0.6" fill="none"/>
<path d="M1.6 -1.6 L2 1.6" stroke="#303030" stroke-width="0.6" fill="none"/>
<path d="M2.8 -1.6 L3.2 1.6" stroke="#303030" stroke-width="0.6" fill="none"/>
</g>
<ellipse cx="347.5" cy="492.7" rx="2.9" ry="3.5" stroke="#303030" stroke-width="1.3" fill="#fff"/>
<g transform="translate(365 497.5) rotate(20.0)">
<path d="M-5 -4 L1 -4 A1.8 4 0 0 1 1 4 L-5 4 A1.8 4 0 0 1 -5 -4 Z" stroke="#303030" stroke-width="0.8" fill="#fff"/>
<ellipse cx="-5" cy="0" rx="1.8" ry="4" stroke="#303030" stroke-width="0.8" fill="#fff"/>
<path d="M-3.8 -3.9 A1.7 3.9 0 0 0 -3.8 3.9" stroke="#303030" stroke-width="0.6" fill="none"/>
<path d="M-2.4 -3.9 A1.7 3.9 0 0 0 -2.4 3.9" stroke="#303030" stroke-width="0.6" fill="none"/>
<path d="M-1.0 -3.9 A1.7 3.9 0 0 0 -1.0 3.9" stroke="#303030" stroke-width="0.6" fill="none"/>
<path d="M1 -5.5 L3 -5.5 A3.0 5.5 0 0 1 3 5.5 L1 5.5 A2.4 5.5 0 0 1 1 -5.5 Z" stroke="#303030" stroke-width="0.8" fill="#fff"/>
</g>
<path d="M310.8 454.2 L300.2 471.8" stroke="#303030" stroke-width="0.8" fill="none"/>
<path d="M318.7 464.2 L311.5 474.8" stroke="#303030" stroke-width="0.8" fill="none"/>
<path d="M328.7 469.2 L323.8 478.5" stroke="#303030" stroke-width="0.8" fill="none"/>
<path d="M343.7 476.7 L337.5 485.8" stroke="#303030" stroke-width="0.8" fill="none"/>
<path d="M357.1 481.3 L348.8 489.2" stroke="#303030" stroke-width="0.8" fill="none"/>
<path d="M371.2 487.5 L363.7 495.8" stroke="#303030" stroke-width="0.8" fill="none"/>
<path d="M274.0 482.6 L379.7 519.5 L359.6 575.8 L254.4 538.4 Z" stroke="#1e9e3e" stroke-width="2.4" fill="none" stroke-linejoin="miter"/>
<path d="M276 492.5 L341 520.5" stroke="#303030" stroke-width="0.6" fill="none"/>
<g transform="translate(282 495.5) rotate(22)">
<ellipse cx="-6.2" cy="0" rx="1.6" ry="4.6" stroke="#303030" stroke-width="0.8" fill="none"/>
<ellipse cx="-3.7" cy="0" rx="1.6" ry="4.6" stroke="#303030" stroke-width="0.8" fill="none"/>
<ellipse cx="-1.2" cy="0" rx="1.6" ry="4.6" stroke="#303030" stroke-width="0.8" fill="none"/>
<ellipse cx="1.3" cy="0" rx="1.6" ry="4.6" stroke="#303030" stroke-width="0.8" fill="none"/>
<ellipse cx="3.8" cy="0" rx="1.6" ry="4.6" stroke="#303030" stroke-width="0.8" fill="none"/>
<ellipse cx="6.3" cy="0" rx="1.6" ry="4.6" stroke="#303030" stroke-width="0.8" fill="none"/>
</g>
<g transform="translate(297 501.5) rotate(22)">
<path d="M-7 -1.6 L7 -1.6 A0.64 1.6 0 0 1 7 1.6 L-7 1.6 A0.64 1.6 0 0 1 -7 -1.6 Z" stroke="#303030" stroke-width="0.8" fill="#fff"/>
<ellipse cx="-7" cy="0" rx="0.64" ry="1.6" stroke="#303030" stroke-width="0.8" fill="#fff"/>
</g>
<g transform="translate(308.5 505.8) rotate(22)">
<path d="M-4 -3 L4 -3 A1.35 3 0 0 1 4 3 L-4 3 A1.35 3 0 0 1 -4 -3 Z" stroke="#303030" stroke-width="0.8" fill="#fff"/>
<ellipse cx="-4" cy="0" rx="1.35" ry="3" stroke="#303030" stroke-width="0.8" fill="#fff"/>
<path d="M-3.2 -2.9 A1.3 2.9 0 0 0 -3.2 2.9" stroke="#303030" stroke-width="0.6" fill="none"/>
<path d="M-2 -2.9 A1.3 2.9 0 0 0 -2 2.9" stroke="#303030" stroke-width="0.6" fill="none"/>
<path d="M-0.8 -2.9 A1.3 2.9 0 0 0 -0.8 2.9" stroke="#303030" stroke-width="0.6" fill="none"/>
</g>
<ellipse cx="321.1" cy="511.4" rx="2" ry="2.6" stroke="#303030" stroke-width="1.2" fill="#fff"/>
<ellipse cx="327.6" cy="514" rx="2" ry="2.6" stroke="#303030" stroke-width="1.2" fill="#fff"/>
<g transform="translate(339.3 519.3) rotate(22)">
<path d="M-6.5 -3.4 L-1.5 -3.4 A1.53 3.4 0 0 1 -1.5 3.4 L-6.5 3.4 A1.53 3.4 0 0 1 -6.5 -3.4 Z" stroke="#303030" stroke-width="0.8" fill="#fff"/>
<ellipse cx="-6.5" cy="0" rx="1.53" ry="3.4" stroke="#303030" stroke-width="0.8" fill="#fff"/>
<path d="M-1.5 -4.5 L4.2 -4.5 A2.02 4.5 0 0 1 4.2 4.5 L-1.5 4.5 A2.02 4.5 0 0 1 -1.5 -4.5 Z" stroke="#303030" stroke-width="0.8" fill="#fff"/>
<ellipse cx="-1.5" cy="0" rx="2" ry="4.5" stroke="#303030" stroke-width="0.8" fill="none"/>
<ellipse cx="4.2" cy="0" rx="2" ry="4.5" stroke="#303030" stroke-width="0.8" fill="#fff"/>
<path d="M3.6 -2 A1.5 3 0 0 0 3.6 3" stroke="#303030" stroke-width="0.6" fill="none"/>
</g>
<path d="M291.4 529.6 L284.9 502.5" stroke="#303030" stroke-width="0.8" fill="none"/>
<path d="M311.4 538.3 L308.1 509" stroke="#303030" stroke-width="0.8" fill="none"/>
<path d="M328.3 544.8 L321.4 514" stroke="#303030" stroke-width="0.8" fill="none"/>
<path d="M328.3 544.8 L327.8 516.6" stroke="#303030" stroke-width="0.8" fill="none"/>
<path d="M350.6 550.2 L342.3 524.2" stroke="#303030" stroke-width="0.8" fill="none"/>
<path d="M230.8 522 L245.5 527.3 L247.4 529 L247.4 542.5 L245.2 545.3 L243.3 544 L242.8 533.2 L236.5 529.5 L231.3 528 A1.6 3 0 0 1 230.8 522 Z" stroke="#303030" stroke-width="0.8" fill="#fff"/>
<path d="M233.5 524.2 L243.6 528.3 L243.6 543.8" stroke="#303030" stroke-width="0.6" fill="none"/>
<path d="M245.5 527.3 L243.6 528.3" stroke="#303030" stroke-width="0.6" fill="none"/>
<ellipse cx="244.6" cy="544" rx="1.2" ry="1.2" stroke="#303030" stroke-width="0.7" fill="#fff"/>
<ellipse cx="240.2" cy="533.8" rx="0.9" ry="0.9" stroke="#303030" stroke-width="0.6" fill="#fff"/>
<path d="M240.2 533.8 L231.5 541.5" stroke="#303030" stroke-width="0.6" fill="none"/>
<ellipse cx="229.6" cy="543.2" rx="1.9" ry="2.4" stroke="#303030" stroke-width="1.3" fill="#999"/>
<ellipse cx="229.8" cy="543" rx="0.8" ry="1" stroke="#303030" stroke-width="0.6" fill="#fff"/>
<g transform="translate(219.8 552) rotate(-34)">
<path d="M-6.8 -2.5 L6.8 -2.5 A1.25 2.5 0 0 1 6.8 2.5 L-6.8 2.5 A1.25 2.5 0 0 1 -6.8 -2.5 Z" stroke="#303030" stroke-width="0.8" fill="#fff"/>
<ellipse cx="-6.8" cy="0" rx="1.25" ry="2.5" stroke="#303030" stroke-width="0.8" fill="#fff"/>
</g>
<path d="M247 544.5 L257 548 L273 552" stroke="#303030" stroke-width="0.6" fill="none"/>
<g transform="translate(259.8 547.8) rotate(22)">
<path d="M-2.5 -1.8 L2.5 -1.8 A0.81 1.8 0 0 1 2.5 1.8 L-2.5 1.8 A0.81 1.8 0 0 1 -2.5 -1.8 Z" stroke="#303030" stroke-width="0.8" fill="#fff"/>
<ellipse cx="-2.5" cy="0" rx="0.81" ry="1.8" stroke="#303030" stroke-width="0.8" fill="#fff"/>
<path d="M-1.5 -1.8 L-1.2 1.8" stroke="#303030" stroke-width="0.6" fill="none"/>
<path d="M0 -1.8 L0.3 1.8" stroke="#303030" stroke-width="0.6" fill="none"/>
<path d="M1.5 -1.8 L1.8 1.8" stroke="#303030" stroke-width="0.6" fill="none"/>
</g>
<ellipse cx="269.9" cy="551" rx="2" ry="2.3" stroke="#303030" stroke-width="1.3" fill="#fff"/>
<path d="M207 511 L225 497.5" stroke="#303030" stroke-width="0.8" fill="none"/>
<path d="M207.5 546.8 L227.5 541.8" stroke="#303030" stroke-width="0.8" fill="none"/>
<path d="M204.2 572.5 L215 558.5" stroke="#303030" stroke-width="0.8" fill="none"/>
<path d="M234.2 570.5 L243.3 544.5" stroke="#303030" stroke-width="0.8" fill="none"/>
<path d="M255.8 570.5 L259.2 550.3" stroke="#303030" stroke-width="0.8" fill="none"/>
<path d="M275 570.5 L270 553.5" stroke="#303030" stroke-width="0.8" fill="none"/>
<text transform="translate(224.2 54.2) scale(0.42 1)" font-size="9.8" letter-spacing="1.4" fill="#484848" stroke="#484848" stroke-width="0.28">P254</text>
<text transform="translate(224.2 80) scale(0.42 1)" font-size="9.8" letter-spacing="1.4" fill="#484848" stroke="#484848" stroke-width="0.28">P253</text>
<text transform="translate(223.3 107) scale(0.42 1)" font-size="9.8" letter-spacing="1.4" fill="#484848" stroke="#484848" stroke-width="0.28">P252</text>
<text transform="translate(223.7 131.7) scale(0.42 1)" font-size="9.8" letter-spacing="1.4" fill="#484848" stroke="#484848" stroke-width="0.28">P251</text>
<text transform="translate(283 132.7) scale(0.42 1)" font-size="9.8" letter-spacing="1.4" fill="#484848" stroke="#484848" stroke-width="0.28">P250</text>
<text transform="translate(300.5 132.7) scale(0.42 1)" font-size="9.8" letter-spacing="1.4" fill="#484848" stroke="#484848" stroke-width="0.28">P249</text>
<text transform="translate(432 186.5) scale(0.42 1)" font-size="9.8" letter-spacing="1.4" fill="#484848" stroke="#484848" stroke-width="0.28">P248</text>
<text transform="translate(368.5 268.9) scale(0.42 1)" font-size="9.8" letter-spacing="1.4" fill="#484848" stroke="#484848" stroke-width="0.28">P207</text>
<text transform="translate(368.5 282) scale(0.42 1)" font-size="9.8" letter-spacing="1.4" fill="#484848" stroke="#484848" stroke-width="0.28">P208</text>
<text transform="translate(368.5 295) scale(0.42 1)" font-size="9.8" letter-spacing="1.4" fill="#484848" stroke="#484848" stroke-width="0.28">P209</text>
<text transform="translate(368.6 312.8) scale(0.42 1)" font-size="9.8" letter-spacing="1.4" fill="#484848" stroke="#484848" stroke-width="0.28">P210</text>
<text transform="translate(368.6 332) scale(0.42 1)" font-size="9.8" letter-spacing="1.4" fill="#484848" stroke="#484848" stroke-width="0.28">P211</text>
<text transform="translate(433.1 305.1) scale(0.42 1)" font-size="9.8" letter-spacing="1.4" fill="#484848" stroke="#484848" stroke-width="0.28">P247</text>
<text transform="translate(433.3 330) scale(0.42 1)" font-size="9.8" letter-spacing="1.4" fill="#484848" stroke="#484848" stroke-width="0.28">P246</text>
<text transform="translate(433.6 355.1) scale(0.42 1)" font-size="9.8" letter-spacing="1.4" fill="#484848" stroke="#484848" stroke-width="0.28">P245</text>
<text transform="translate(433.6 379.8) scale(0.42 1)" font-size="9.8" letter-spacing="1.4" fill="#484848" stroke="#484848" stroke-width="0.28">P244</text>
<text transform="translate(434.4 405.6) scale(0.42 1)" font-size="9.8" letter-spacing="1.4" fill="#484848" stroke="#484848" stroke-width="0.28">P243</text>
<text transform="translate(175.9 295.1) scale(0.42 1)" font-size="9.8" letter-spacing="1.4" fill="#484848" stroke="#484848" stroke-width="0.28">P201</text>
<text transform="translate(176 324.8) scale(0.42 1)" font-size="9.8" letter-spacing="1.4" fill="#484848" stroke="#484848" stroke-width="0.28">P202</text>
<text transform="translate(176 350.9) scale(0.42 1)" font-size="9.8" letter-spacing="1.4" fill="#484848" stroke="#484848" stroke-width="0.28">P203</text>
<text transform="translate(176.1 377.6) scale(0.42 1)" font-size="9.8" letter-spacing="1.4" fill="#484848" stroke="#484848" stroke-width="0.28">P204</text>
<text transform="translate(176.1 395.9) scale(0.42 1)" font-size="9.8" letter-spacing="1.4" fill="#484848" stroke="#484848" stroke-width="0.28">P205</text>
<text transform="translate(175 413.3) scale(0.42 1)" font-size="9.8" letter-spacing="1.4" fill="#484848" stroke="#484848" stroke-width="0.28">P206</text>
<text transform="translate(225 362.95) scale(0.42 1)" font-size="9.8" letter-spacing="1.4" fill="#484848" stroke="#484848" stroke-width="0.28">P262</text>
<text transform="translate(284.2 345.9) scale(0.42 1)" font-size="9.8" letter-spacing="1.4" fill="#484848" stroke="#484848" stroke-width="0.28">P216</text>
<text transform="translate(284.2 364.2) scale(0.42 1)" font-size="9.8" letter-spacing="1.4" fill="#484848" stroke="#484848" stroke-width="0.28">P215</text>
<text transform="translate(284.2 387.5) scale(0.42 1)" font-size="9.8" letter-spacing="1.4" fill="#484848" stroke="#484848" stroke-width="0.28">P214</text>
<text transform="translate(365.6 375.7) scale(0.42 1)" font-size="9.8" letter-spacing="1.4" fill="#484848" stroke="#484848" stroke-width="0.28">P212</text>
<text transform="translate(365.6 386.8) scale(0.42 1)" font-size="9.8" letter-spacing="1.4" fill="#484848" stroke="#484848" stroke-width="0.28">P213</text>
<text transform="translate(306.7 423.7) scale(0.42 1)" font-size="9.8" letter-spacing="1.4" fill="#484848" stroke="#484848" stroke-width="0.28">P242</text>
<text transform="translate(306.7 435) scale(0.42 1)" font-size="9.8" letter-spacing="1.4" fill="#484848" stroke="#484848" stroke-width="0.28">P241</text>
<text transform="translate(306.7 452) scale(0.42 1)" font-size="9.8" letter-spacing="1.4" fill="#484848" stroke="#484848" stroke-width="0.28">P240</text>
<text transform="translate(317 460) scale(0.42 1)" font-size="9.8" letter-spacing="1.4" fill="#484848" stroke="#484848" stroke-width="0.28">P239</text>
<text transform="translate(329.6 464.9) scale(0.42 1)" font-size="9.8" letter-spacing="1.4" fill="#484848" stroke="#484848" stroke-width="0.28">P238</text>
<text transform="translate(343.8 473.3) scale(0.42 1)" font-size="9.8" letter-spacing="1.4" fill="#484848" stroke="#484848" stroke-width="0.28">P237</text>
<text transform="translate(358.3 479.6) scale(0.42 1)" font-size="9.8" letter-spacing="1.4" fill="#484848" stroke="#484848" stroke-width="0.28">P236</text>
<text transform="translate(372.5 485.9) scale(0.42 1)" font-size="9.8" letter-spacing="1.4" fill="#484848" stroke="#484848" stroke-width="0.28">P235</text>
<text transform="translate(150.5 423.4) scale(0.42 1)" font-size="9.8" letter-spacing="1.4" fill="#484848" stroke="#484848" stroke-width="0.28">P217</text>
<text transform="translate(163 428.4) scale(0.42 1)" font-size="9.8" letter-spacing="1.4" fill="#484848" stroke="#484848" stroke-width="0.28">P218</text>
<text transform="translate(174.8 432.8) scale(0.42 1)" font-size="9.8" letter-spacing="1.4" fill="#484848" stroke="#484848" stroke-width="0.28">P219</text>
<text transform="translate(191 442.5) scale(0.42 1)" font-size="9.8" letter-spacing="1.4" fill="#484848" stroke="#484848" stroke-width="0.28">P220</text>
<text transform="translate(154.9 477.2) scale(0.42 1)" font-size="9.8" letter-spacing="1.4" fill="#484848" stroke="#484848" stroke-width="0.28">P221</text>
<text transform="translate(170 482.5) scale(0.42 1)" font-size="9.8" letter-spacing="1.4" fill="#484848" stroke="#484848" stroke-width="0.28">P222</text>
<text transform="translate(181.4 486.4) scale(0.42 1)" font-size="9.8" letter-spacing="1.4" fill="#484848" stroke="#484848" stroke-width="0.28">P223</text>
<text transform="translate(195 490.3) scale(0.42 1)" font-size="9.8" letter-spacing="1.4" fill="#484848" stroke="#484848" stroke-width="0.28">P224</text>
<text transform="translate(195.6 517.2) scale(0.42 1)" font-size="9.8" letter-spacing="1.4" fill="#484848" stroke="#484848" stroke-width="0.28">P225</text>
<text transform="translate(196.5 549.5) scale(0.42 1)" font-size="9.8" letter-spacing="1.4" fill="#484848" stroke="#484848" stroke-width="0.28">P226</text>
<text transform="translate(197.4 580.2) scale(0.42 1)" font-size="9.8" letter-spacing="1.4" fill="#484848" stroke="#484848" stroke-width="0.28">P227</text>
<text transform="translate(225.8 580.2) scale(0.42 1)" font-size="9.8" letter-spacing="1.4" fill="#484848" stroke="#484848" stroke-width="0.28">P228</text>
<text transform="translate(246 580.2) scale(0.42 1)" font-size="9.8" letter-spacing="1.4" fill="#484848" stroke="#484848" stroke-width="0.28">P229</text>
<text transform="translate(270.3 580.2) scale(0.42 1)" font-size="9.8" letter-spacing="1.4" fill="#484848" stroke="#484848" stroke-width="0.28">P230</text>
<text transform="translate(284.2 541.1) scale(0.42 1)" font-size="9.8" letter-spacing="1.4" fill="#484848" stroke="#484848" stroke-width="0.28">P231</text>
<text transform="translate(304.4 548.7) scale(0.42 1)" font-size="9.8" letter-spacing="1.4" fill="#484848" stroke="#484848" stroke-width="0.28">P232</text>
<text transform="translate(321.8 556.4) scale(0.42 1)" font-size="9.8" letter-spacing="1.4" fill="#484848" stroke="#484848" stroke-width="0.28">P233</text>
<text transform="translate(343.4 562.3) scale(0.42 1)" font-size="9.8" letter-spacing="1.4" fill="#484848" stroke="#484848" stroke-width="0.28">P234</text>
</svg></body></html>
